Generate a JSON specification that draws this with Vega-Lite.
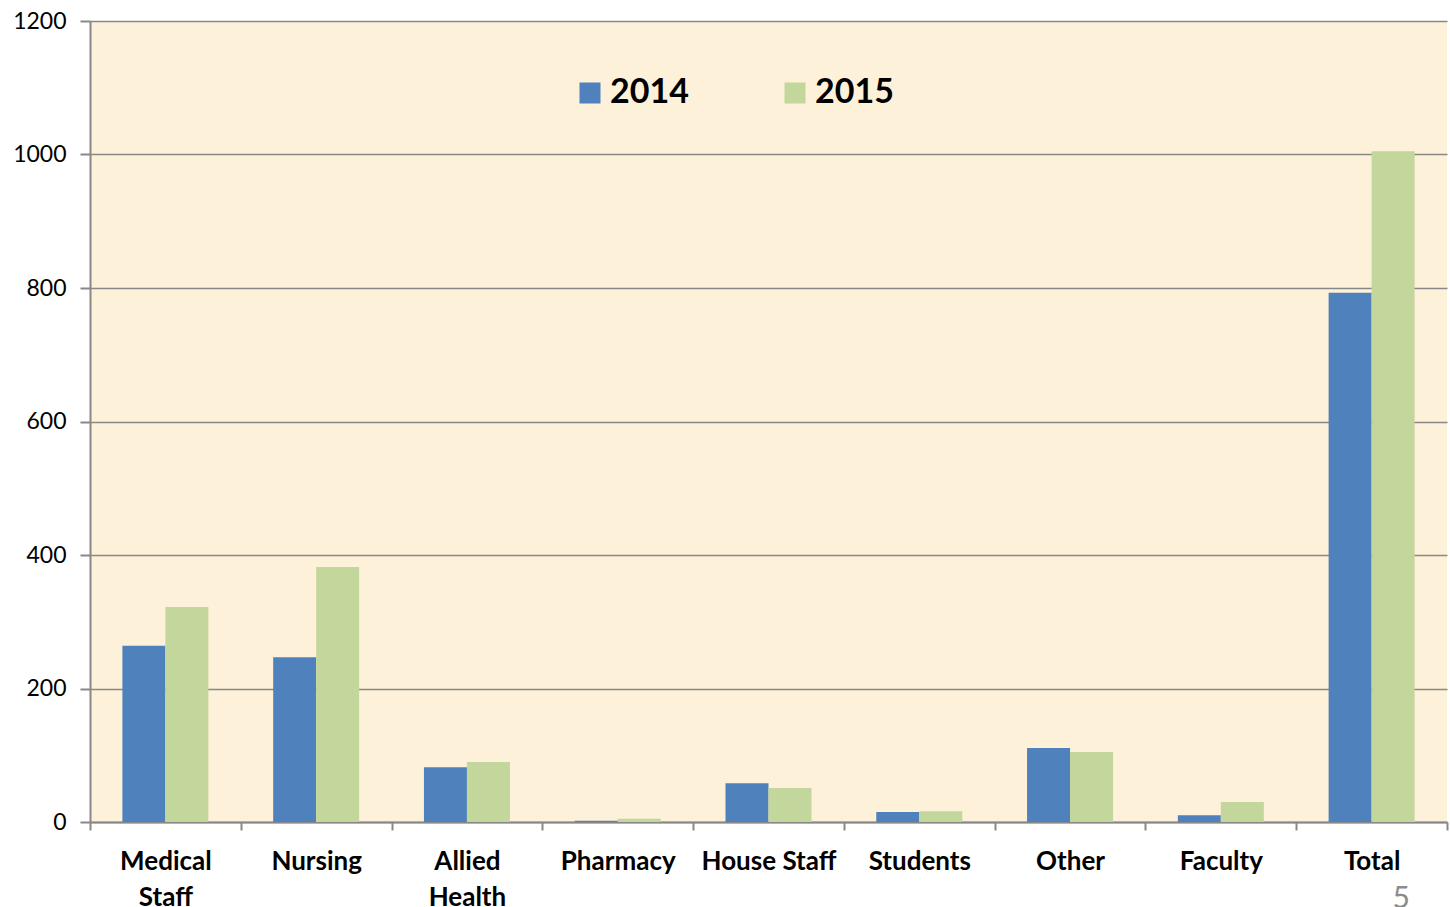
{
  "$schema": "https://vega.github.io/schema/vega-lite/v6.json",
  "width": 1357,
  "height": 801,
  "autosize": {"type": "none"},
  "padding": {"left": 90, "top": 21, "right": 3, "bottom": 85},
  "background": "white",
  "config": {
    "view": {"fill": "#FDF1D9", "stroke": null},
    "font": "Lato"
  },
  "title": {
    "text": "5",
    "orient": "bottom",
    "anchor": "end",
    "color": "#8C8C8C",
    "font": "Lato",
    "fontSize": 30,
    "fontWeight": "normal",
    "offset": -26,
    "dx": -38
  },
  "data": {
    "values": [
      {"category": "Medical Staff", "year": "2014", "value": 264},
      {"category": "Medical Staff", "year": "2015", "value": 322},
      {"category": "Nursing", "year": "2014", "value": 247},
      {"category": "Nursing", "year": "2015", "value": 382},
      {"category": "Allied Health", "year": "2014", "value": 82},
      {"category": "Allied Health", "year": "2015", "value": 90},
      {"category": "Pharmacy", "year": "2014", "value": 2},
      {"category": "Pharmacy", "year": "2015", "value": 5},
      {"category": "House Staff", "year": "2014", "value": 58},
      {"category": "House Staff", "year": "2015", "value": 51},
      {"category": "Students", "year": "2014", "value": 15},
      {"category": "Students", "year": "2015", "value": 16},
      {"category": "Other", "year": "2014", "value": 111},
      {"category": "Other", "year": "2015", "value": 105},
      {"category": "Faculty", "year": "2014", "value": 10},
      {"category": "Faculty", "year": "2015", "value": 30},
      {"category": "Total", "year": "2014", "value": 793},
      {"category": "Total", "year": "2015", "value": 1005}
    ]
  },
  "mark": {"type": "bar"},
  "encoding": {
    "x": {
      "field": "category",
      "type": "nominal",
      "sort": null,
      "scale": {"paddingInner": 0, "paddingOuter": 0},
      "axis": {
        "title": null,
        "labelAngle": 0,
        "labelFont": "Lato",
        "labelFontWeight": "bold",
        "labelFontSize": 26,
        "labelColor": "black",
        "labelPadding": 18,
        "labelLimit": 300,
        "labelLineHeight": 36,
        "labelExpr": "datum.label == 'Medical Staff' ? ['Medical','Staff'] : datum.label == 'Allied Health' ? ['Allied','Health'] : datum.label",
        "tickBand": "extent",
        "tickSize": 8,
        "tickColor": "#888888",
        "tickWidth": 2,
        "domainColor": "#888888",
        "domainWidth": 2,
        "grid": false
      }
    },
    "xOffset": {
      "field": "year",
      "type": "nominal",
      "scale": {"paddingInner": 0, "paddingOuter": 0.7535}
    },
    "y": {
      "field": "value",
      "type": "quantitative",
      "scale": {"domain": [0, 1200], "nice": false},
      "axis": {
        "title": null,
        "values": [0, 200, 400, 600, 800, 1000, 1200],
        "format": "d",
        "labelFont": "Lato",
        "labelFontSize": 23,
        "labelColor": "black",
        "labelPadding": 14,
        "tickSize": 10,
        "tickColor": "#888888",
        "tickWidth": 2,
        "domainColor": "#888888",
        "domainWidth": 2,
        "grid": true,
        "gridColor": "#888888",
        "gridWidth": 1.5
      }
    },
    "color": {
      "field": "year",
      "type": "nominal",
      "scale": {"domain": ["2014", "2015"], "range": ["#4F81BD", "#C3D69B"]},
      "legend": {
        "title": null,
        "orient": "none",
        "legendX": 483,
        "legendY": 55,
        "direction": "horizontal",
        "symbolType": "square",
        "symbolSize": 441,
        "symbolStrokeWidth": 0,
        "labelFont": "Lato",
        "labelFontSize": 34,
        "labelFontWeight": "bold",
        "labelColor": "black",
        "labelOffset": 3,
        "columnPadding": 89
      }
    }
  }
}
